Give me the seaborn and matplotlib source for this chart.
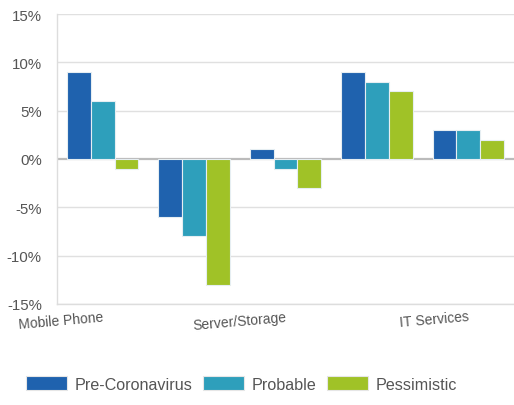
import matplotlib
matplotlib.use("Agg")
import matplotlib.pyplot as plt
import seaborn as sns
import pandas as pd
from matplotlib.patches import Patch

categories = ["Mobile Phone", "PC/Tablet", "Server/Storage", "Software", "IT Services"]
shown_labels = ["Mobile Phone", "", "Server/Storage", "", "IT Services"]
series = ["Pre-Coronavirus", "Probable", "Pessimistic"]
pre_corona = [9, -6, 1, 9, 3]
probable = [6, -8, -1, 8, 3]
pessimistic = [-1, -13, -3, 7, 2]
y_ticks = [-15, -10, -5, 0, 5, 10, 15]
colors = ["#1f62ae", "#2e9fbb", "#a0c227"]

rows = []
for s, vals in zip(series, [pre_corona, probable, pessimistic]):
    for c, v in zip(categories, vals):
        rows.append({"category": c, "series": s, "value": v})
df = pd.DataFrame(rows)

sns.set_theme(style="white")
plt.rcParams["font.family"] = ["Liberation Sans", "DejaVu Sans"]

fig = plt.figure(figsize=(5.14, 4.06), dpi=100)
ax = fig.add_axes([0.111, 0.249, 0.889, 0.714])

sns.barplot(data=df, x="category", y="value", hue="series", order=categories,
            hue_order=series, palette=colors, width=0.78, edgecolor="#e6eef2",
            linewidth=0.8, ax=ax, legend=False, saturation=1)

ax.set_ylim(-15, 15)
ax.set_xlim(-0.5, len(categories) - 0.5)
ax.set_yticks(y_ticks)
ax.set_yticklabels([f"{t}%" for t in y_ticks], color="#555555", fontsize=10.8)
ax.set_xticks(range(len(categories)))
ax.set_xticklabels(shown_labels, rotation=5, ha="right", color="#555555",
                   fontsize=10, rotation_mode="anchor")
ax.tick_params(axis="x", length=0, pad=4)
ax.tick_params(axis="y", length=10, color="#dddddd", width=1, pad=1)
ax.set_xlabel("")
ax.set_ylabel("")

for t in y_ticks:
    ax.axhline(t, color="#bbbbbb" if t == 0 else "#e0e0e0",
               lw=1.6 if t == 0 else 1, zorder=0.5)

for side in ["top", "right"]:
    ax.spines[side].set_visible(False)
ax.spines["left"].set_color("#dddddd")
ax.spines["bottom"].set_color("#dddddd")
ax.spines["left"].set_linewidth(1)
ax.spines["bottom"].set_linewidth(1)

handles = [Patch(facecolor=c, edgecolor="#e6e6e6", linewidth=0.8) for c in colors]
fig.legend(handles, series, loc="center left", bbox_to_anchor=(0.05, 0.052),
           ncol=3, frameon=False, fontsize=11.6, handlelength=2.55, handleheight=0.9,
           columnspacing=0.62, handletextpad=0.5, borderpad=0, borderaxespad=0,
           labelcolor="#555555")

fig.savefig("out.png", dpi=100)
